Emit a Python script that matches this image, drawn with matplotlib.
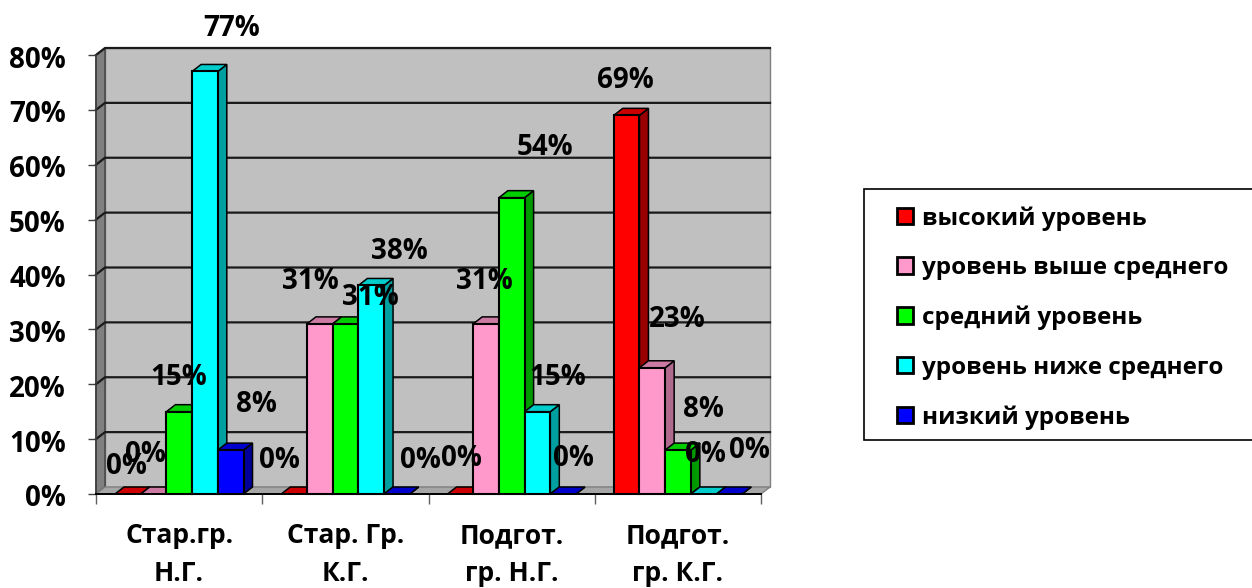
import matplotlib
matplotlib.use("Agg")
import matplotlib.pyplot as plt
from matplotlib.patches import Polygon, Patch, Rectangle
from matplotlib.transforms import ScaledTranslation

plt.rcParams['font.family'] = ['Open Sans', 'DejaVu Sans']
plt.rcParams['font.weight'] = 'bold'

categories = ["Стар.гр.\nН.Г.", "Стар. Гр.\nК.Г.", "Подгот.\nгр. Н.Г.", "Подгот.\nгр. К.Г."]
series_names = ["высокий уровень", "уровень выше среднего", "средний уровень",
                "уровень ниже среднего", "низкий уровень"]
high = [0, 0, 0, 69]
above_avg = [0, 31, 31, 23]
average = [15, 31, 54, 8]
below_avg = [77, 38, 15, 0]
low = [8, 0, 0, 0]
series_values = [high, above_avg, average, below_avg, low]
y_ticks = [0, 10, 20, 30, 40, 50, 60, 70, 80]

front_colors = ["#FF0000", "#FF99CC", "#00FF00", "#00FFFF", "#0000FF"]
top_colors = ["#CC0000", "#CC7AA3", "#00CC00", "#00CCCC", "#0000CC"]
side_colors = ["#990000", "#B06A8E", "#009900", "#00A0A0", "#000099"]

# label placement relative to the bar-top centre (pixels: right, up), per series / group
label_offsets = [
    [(-1, 27), (-15, 34), (1.5, 36), (-1, 35)],
    [(-8.5, 39), (-9, 42), (-2, 42), (24.5, 48)],
    [(-1, 34.6), (25, 26), (33.5, 50), (25, 41)],
    [(27, 43), (28, 34), (20.5, 34.6), (2, 40)],
    [(26, 46), (24, 34), (10.5, 36), (20, 44)],
]

W, H = 1252, 588
fig = plt.figure(figsize=(W / 100, H / 100), dpi=100)
L, R, B, T = 96, 761, 494, 55
ax = fig.add_axes([L / W, 1 - B / H, (R - L) / W, (B - T) / H])
ax.set_xlim(0, 4)
ax.set_ylim(0, 80)

DX = 9 / ((R - L) / 4)
DY = 7 / ((B - T) / 80)
START = 19 / ((R - L) / 4)
BW = 25.7 / ((R - L) / 4)

# walls
ax.add_patch(Polygon([(DX, DY), (4 + DX, DY), (4 + DX, 80 + DY), (DX, 80 + DY)],
                     fc="#C0C0C0", ec="#808080", lw=1, zorder=1, clip_on=False))
ax.add_patch(Polygon([(0, 0), (DX, DY), (DX, 80 + DY), (0, 80)],
                     fc="#808080", ec="#404040", lw=1, zorder=1, clip_on=False))
ax.add_patch(Polygon([(0, 0), (4, 0), (4 + DX, DY), (DX, DY)],
                     fc="#A6A6A6", ec="#808080", lw=1, zorder=1, clip_on=False))
for v in y_ticks[1:]:
    ax.plot([0, DX, 4 + DX], [v, v + DY, v + DY], color="#1A1A1A", lw=1.6,
            zorder=2, clip_on=False)

# bars
z = 3
for g in range(len(categories)):
    for s, vals in enumerate(series_values):
        v = vals[g]
        x0 = g + START + s * BW
        x1 = x0 + BW
        ax.add_patch(Polygon([(x1, 0), (x1 + DX, DY), (x1 + DX, v + DY), (x1, v)],
                             fc=side_colors[s], ec="black", lw=1.1, zorder=z, clip_on=False))
        ax.add_patch(Polygon([(x0, v), (x1, v), (x1 + DX, v + DY), (x0 + DX, v + DY)],
                             fc=top_colors[s], ec="black", lw=1.1, zorder=z, clip_on=False))
        if v > 0:
            ax.bar(x0, v, width=BW, align="edge", color=front_colors[s],
                   edgecolor="black", linewidth=1.5, zorder=z + 0.1, clip_on=False)
        z += 0.2

# data labels
for s, vals in enumerate(series_values):
    for g, v in enumerate(vals):
        xc = g + START + (s + 0.5) * BW
        ax.annotate(f"{v}%", (xc, v), xytext=label_offsets[s][g], textcoords="offset pixels",
                    ha="center", va="center", fontsize=20, fontweight="bold",
                    color="black", zorder=50, annotation_clip=False)

# axes
for side in ("top", "right"):
    ax.spines[side].set_visible(False)
ax.spines["left"].set_color("#404040")
ax.spines["left"].set_linewidth(1.2)
ax.spines["bottom"].set_color("black")
ax.spines["bottom"].set_linewidth(1.4)
ax.spines["left"].set_zorder(60)
ax.spines["bottom"].set_zorder(60)
ax.set_yticks(y_ticks)
ax.set_yticklabels([f"{v}%" for v in y_ticks], fontsize=20, fontweight="bold")
ax.tick_params(axis="y", length=5.8, width=1, color="#404040", pad=16)
shift = ScaledTranslation(0, -1.5 / 100, fig.dpi_scale_trans)
for lab in ax.get_yticklabels():
    lab.set_transform(lab.get_transform() + shift)
ax.set_xticks(range(5))
ax.set_xticklabels([])
ax.tick_params(axis="x", which="major", length=7, width=1, color="#606060")
ax.set_xticks([i + 0.5 for i in range(4)], minor=True)
ax.set_xticklabels(categories, minor=True, fontsize=19, fontweight="bold", linespacing=1.52)
ax.tick_params(axis="x", which="minor", length=0, pad=20)

# legend box runs off the right side of the picture, as in the reference
fig.add_artist(Rectangle((864 / W, 1 - 440 / H), 420 / W, 251 / H, transform=fig.transFigure,
                         fc="white", ec="black", lw=1.2, zorder=5))
handles = [Patch(fc=c, ec="black", lw=2) for c in front_colors]
leg = fig.legend(handles, series_names, loc="upper left",
                 bbox_to_anchor=(897 / W, 1 - 206 / H), bbox_transform=fig.transFigure,
                 borderaxespad=0, prop={"weight": "bold", "size": 17.5},
                 labelspacing=1.05, handlelength=0.66, handleheight=0.66, handletextpad=0.36,
                 borderpad=0, frameon=False)
leg.set_zorder(6)

fig.savefig("out.png", dpi=100)
